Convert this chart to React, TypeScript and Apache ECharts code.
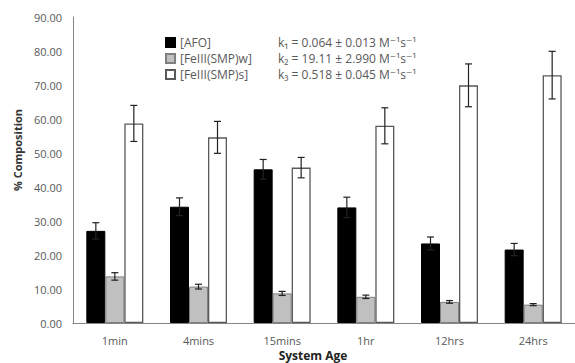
import React, { useEffect, useRef } from "react";
import * as echarts from "echarts";

const categories = ["1min", "4mins", "15mins", "1hr", "12hrs", "24hrs"];
const afo = [27.1, 34.2, 45.2, 34.0, 23.4, 21.6];
const afoErr = [2.4, 2.6, 2.9, 3.0, 1.9, 1.8];
const smpW = [13.7, 10.7, 8.7, 7.7, 6.2, 5.4];
const smpWErr = [1.1, 0.7, 0.6, 0.5, 0.4, 0.3];
const smpS = [58.7, 54.6, 45.7, 58.0, 69.9, 72.9];
const smpSErr = [5.3, 4.7, 3.0, 5.3, 6.3, 7.0];
const seriesNames = ["[AFO]", "[FeIII(SMP)w]", "[FeIII(SMP)s]"];
const rateTexts = [
  "k\u2081 = 0.064 \u00b1 0.013 M\u207b\u00b9s\u207b\u00b9",
  "k\u2082 = 19.11 \u00b1 2.990 M\u207b\u00b9s\u207b\u00b9",
  "k\u2083 = 0.518 \u00b1 0.045 M\u207b\u00b9s\u207b\u00b9",
];

const FONT = "'Open Sans', 'DejaVu Sans', sans-serif";
const BAR_W = 19;

function errorSeries(values: number[], errs: number[], offset: number) {
  return {
    type: "custom",
    z: 5,
    silent: true,
    encode: { x: 0, y: 1 },
    data: values.map((v, i) => [i, v, errs[i]]),
    renderItem: (params: any, api: any) => {
      const i = api.value(0);
      const v = api.value(1);
      const e = api.value(2);
      const c = api.coord([i, v]);
      const x = c[0] + offset;
      const hi = api.coord([i, v + e])[1];
      const lo = api.coord([i, v - e])[1];
      const cap = 3.5;
      const st = { stroke: "#222", lineWidth: 1.2 };
      return {
        type: "group",
        children: [
          { type: "line", shape: { x1: x, y1: hi, x2: x, y2: lo }, style: st },
          { type: "line", shape: { x1: x - cap, y1: hi, x2: x + cap, y2: hi }, style: st },
          { type: "line", shape: { x1: x - cap, y1: lo, x2: x + cap, y2: lo }, style: st },
        ],
      };
    },
  };
}

export default function App() {
  const ref = useRef<HTMLDivElement>(null);
  useEffect(() => {
    if (!ref.current) return;
    const chart = echarts.init(ref.current, null, { renderer: "svg" });
    chart.setOption({
      animation: false,
      backgroundColor: "#ffffff",
      textStyle: { fontFamily: FONT },
      grid: { left: 73, right: -3, top: 17, bottom: 40 },
      legend: {
        orient: "vertical",
        left: 160,
        top: 31,
        itemWidth: 9,
        itemHeight: 9,
        itemGap: 3,
        icon: "rect",
        textStyle: { fontSize: 12, color: "#595959", fontFamily: FONT, lineHeight: 13 },
        data: seriesNames,
      },
      xAxis: {
        type: "category",
        data: categories,
        axisLine: { lineStyle: { color: "#868686", width: 1 } },
        axisTick: { show: false },
        axisLabel: { color: "#595959", fontSize: 11, margin: 12, fontFamily: FONT },
      },
      yAxis: {
        type: "value",
        min: 0,
        max: 90,
        interval: 10,
        axisLine: { show: true, lineStyle: { color: "#868686", width: 1 } },
        axisTick: { show: false },
        splitLine: { show: false },
        axisLabel: {
          color: "#595959",
          fontSize: 11,
          margin: 11,
          fontFamily: FONT,
          formatter: (v: number) => v.toFixed(2),
        },
      },
      series: [
        {
          name: seriesNames[0],
          type: "bar",
          data: afo,
          barWidth: BAR_W,
          barGap: "0%",
          itemStyle: { color: "#000000", borderColor: "#000000", borderWidth: 1 },
        },
        {
          name: seriesNames[1],
          type: "bar",
          data: smpW,
          barWidth: BAR_W,
          barGap: "0%",
          itemStyle: { color: "#c0c0c0", borderColor: "#7f7f7f", borderWidth: 1 },
        },
        {
          name: seriesNames[2],
          type: "bar",
          data: smpS,
          barWidth: BAR_W,
          barGap: "0%",
          itemStyle: { color: "#ffffff", borderColor: "#595959", borderWidth: 1.3 },
        },
        errorSeries(afo, afoErr, -BAR_W),
        errorSeries(smpW, smpWErr, 0),
        errorSeries(smpS, smpSErr, BAR_W),
      ],
      graphic: [
        ...rateTexts.map((t, k) => ({
          type: "text",
          x: 278,
          y: 42 + k * 16,
          style: {
            text: t,
            fontSize: 12,
            fill: "#595959",
            fontFamily: FONT,
            verticalAlign: "middle",
            align: "left",
          },
        })),
        {
          type: "text",
          x: 17,
          y: 150,
          rotation: Math.PI / 2,
          style: {
            text: "% Composition",
            fontSize: 11,
            fontWeight: "bold",
            fill: "#333333",
            fontFamily: FONT,
            align: "center",
            verticalAlign: "middle",
          },
        },
        {
          type: "text",
          x: 313,
          y: 355,
          style: {
            text: "System Age",
            fontSize: 12,
            fontWeight: "bold",
            fill: "#222222",
            fontFamily: FONT,
            align: "center",
            verticalAlign: "middle",
          },
        },
      ],
    });
    return () => chart.dispose();
  }, []);
  return (
    <div
      ref={ref}
      style={{ position: "absolute", left: 0, top: 0, width: 575, height: 363 }}
    />
  );
}
